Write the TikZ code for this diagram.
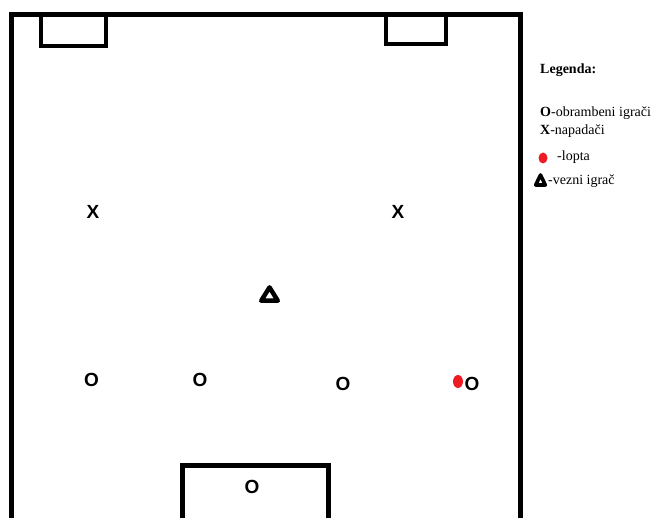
\documentclass[tikz,border=0pt]{standalone}
\usepackage{fontspec}
\setmainfont{Liberation Serif}
\newfontfamily\playerfont{Liberation Sans}
\definecolor{ballred}{HTML}{ED1C24}
\tikzset{
  player/.style={font=\playerfont\bfseries\fontsize{19}{19}\selectfont, inner sep=0pt},
  ball/.style={ellipse, fill=ballred, draw=none, minimum width=10pt, minimum height=13pt, inner sep=0pt},
  midfield/.style={line width=4.5pt, line join=round},
  legendtext/.style={font=\fontsize{14}{16}\selectfont, anchor=west, inner sep=0pt}
}
\usetikzlibrary{shapes.geometric}
\begin{document}
\begin{tikzpicture}[x=1pt,y=-1pt]
 	\useasboundingbox (0,0) rectangle (653,518);
 	
 	% Field
 	\draw[line width=5pt] (11,530) -- (11,15) -- (520,15) -- (520,530);
 	
 	% Goal areas
 	\draw[line width=4pt] (41,15) rectangle (106,46);
 	\draw[line width=4pt] (386,15) rectangle (446,44);
 	\draw[line width=5pt] (182,530) -- (182,465) -- (328,465) -- (328,530);
 	
 	% Players
 	\node[player] (x1) at (93,212) {X};
 	\node[player] (x2) at (398,212) {X};
 	\coordinate (mid) at (269.5,294);
 	\draw[midfield] (mid) ++(-8.3,6.7) -- ++(16.6,0) -- ++(-8.3,-13.3) -- cycle;
 	\node[player] (o1) at (91.5,380) {O};
 	\node[player] (o2) at (200,380) {O};
 	\node[player] (o3) at (343,384) {O};
 	\node[player] (o4) at (472,384) {O};
 	\node[player] (gk) at (252,487) {O};
 	\node[ball] (ball) at (458,381.5) {};
 	
 	% Legend
 	\node[legendtext, font=\fontsize{14}{16}\selectfont\bfseries] (leg) at (540,70) {Legenda:};
 	\node[legendtext] (legO) at (540,113) {\textbf{O}-obrambeni igrači};
 	\node[legendtext] (legX) at (540,131) {\textbf{X}-napadači};
 	\node[ball, minimum width=9pt, minimum height=11pt] (legball) at (543,158) {};
 	\node[legendtext] (legB) at (557,157) {-lopta};
 	\coordinate (legmid) at (540.5,180);
 	\draw[midfield, line width=3.6pt] (legmid) ++(-4.8,5) -- ++(9.6,0) -- ++(-4.8,-10) -- cycle;
 	\node[legendtext] (legM) at (548,181) {-vezni igrač};
 	
\end{tikzpicture}
\end{document}
